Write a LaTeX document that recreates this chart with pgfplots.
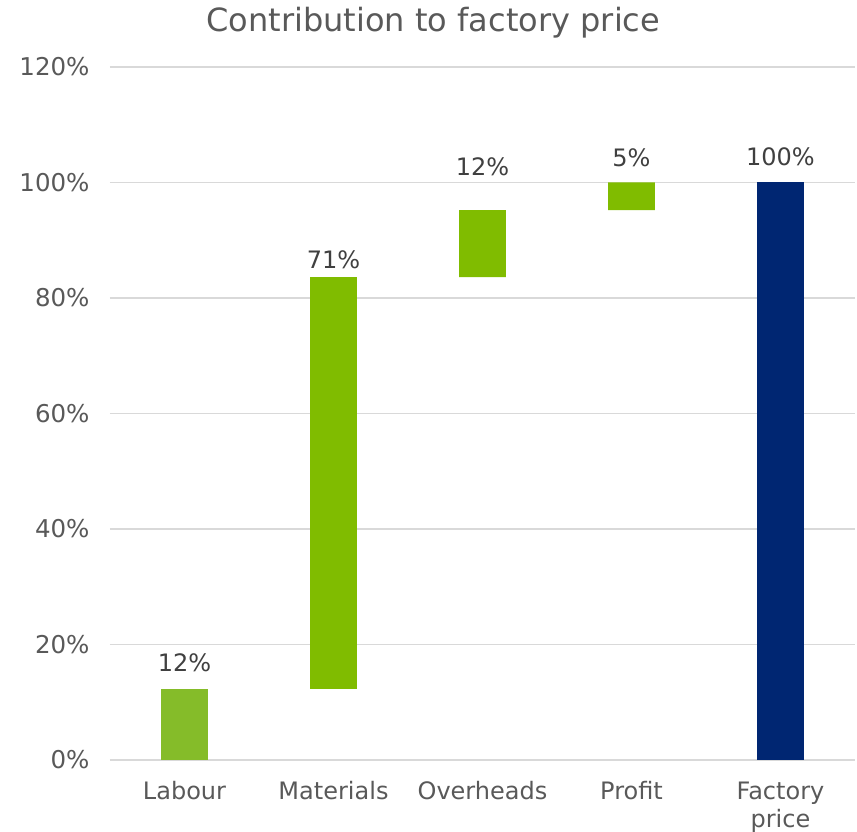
\documentclass[border=0pt]{standalone}
\usepackage{pgfplots}
\pgfplotsset{compat=1.18}
\usepackage{fontspec}
\setmainfont{DejaVu Sans}
\definecolor{lgreen}{HTML}{85BC29}
\definecolor{mgreen}{HTML}{80BC00}
\definecolor{navy}{HTML}{002672}
\definecolor{tickgray}{HTML}{595959}
\definecolor{labgray}{HTML}{404040}
\definecolor{gridgray}{HTML}{D9D9D9}
\begin{document}
\begin{tikzpicture}
\begin{axis}[
  name=ax,
  scale only axis=true,
  width=745pt, height=693pt,
  xmin=-0.5, xmax=4.5,
  ymin=0, ymax=120,
  ytick={0,20,40,60,80,100,120},
  xtick={0,1,2,3,4},
  xticklabels={Labour,Materials,Overheads,Profit,{Factory\\price}},
  xticklabel style={align=center, font=\fontsize{24}{28}\selectfont, text=tickgray, yshift=-18pt},
  yticklabel={\pgfmathprintnumber{\tick}\%},
  yticklabel style={font=\fontsize{24.5}{29}\selectfont, text=tickgray, xshift=-17pt},
  /pgf/number format/assume math mode=true,
  axis line style={draw=none},
  major tick length=0pt,
  ymajorgrids=true,
  grid style={gridgray, line width=1.2pt},
  ybar stacked,
  bar width=0.315,
  clip=false,
  title={Contribution to factory price},
  title style={at={(0.434,1)}, anchor=center, yshift=38pt, font=\fontsize{32}{37}\selectfont, text=tickgray},
]
\addplot[draw=none, fill=none] coordinates {(0,0) (1,12.3) (2,83.6) (3,95.2) (4,0)};
\addplot[draw=none, fill=mgreen] coordinates {(0,0) (1,71.3) (2,11.6) (3,4.8) (4,0)};
\addplot[draw=none, fill=lgreen] coordinates {(0,12.3) (1,0) (2,0) (3,0) (4,0)};
\addplot[draw=none, fill=navy] coordinates {(0,0) (1,0) (2,0) (3,0) (4,100)};
% invisible spacer series carrying the data labels (label sits at the middle of the spacer)
\addplot[draw=none, fill=none, nodes near coords, point meta=explicit symbolic,
  every node near coord/.append style={font=\fontsize{24}{29}\selectfont, text=labgray, anchor=center, yshift=0pt}]
  coordinates {(0,9.0)[12\%] (1,6.2)[71\%] (2,14.9)[12\%] (3,8.7)[5\%] (4,9.0)[100\%]};
\end{axis}
\pgfresetboundingbox
\path (ax.south west) ++(-110pt,-72pt) rectangle ++(857pt,832pt);
\end{tikzpicture}
\end{document}
